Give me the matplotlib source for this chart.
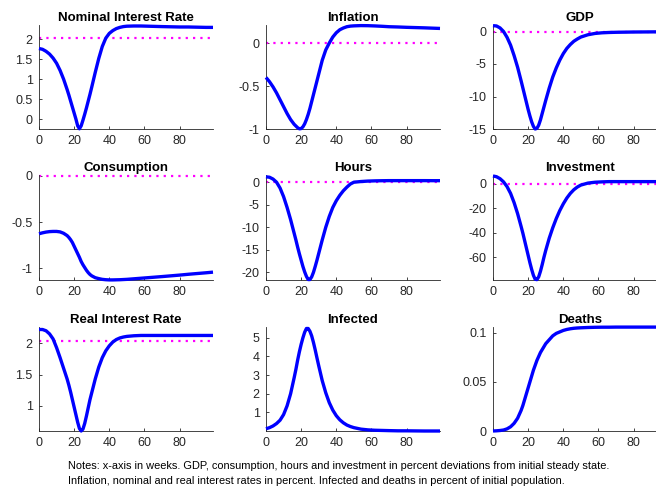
import numpy as np
import matplotlib.pyplot as plt

plt.rcParams["font.family"] = ["Liberation Sans", "DejaVu Sans"]

weeks = [0, 2, 4, 6, 8, 10, 12, 14, 16, 17, 18, 19, 20, 21, 22, 23, 24, 25, 26, 27,
         28, 29, 30, 32, 34, 36, 38, 40, 42, 44, 46, 48, 50, 54, 58, 62, 66, 70, 75,
         80, 85, 90, 95, 99]

nominal_rate = [1.77, 1.75, 1.70, 1.63, 1.53, 1.40, 1.22, 1.00, 0.74, 0.60, 0.45, 0.30,
                0.15, 0.00, -0.17, -0.245, -0.17, -0.03, 0.12, 0.28, 0.45, 0.62, 0.80,
                1.17, 1.52, 1.82, 2.03, 2.15, 2.22, 2.27, 2.30, 2.32, 2.33, 2.335, 2.335,
                2.33, 2.325, 2.32, 2.315, 2.31, 2.31, 2.305, 2.30, 2.30]
inflation = [-0.40, -0.45, -0.51, -0.58, -0.66, -0.74, -0.82, -0.89, -0.945, -0.965,
             -0.985, -0.998, -0.995, -0.975, -0.94, -0.89, -0.83, -0.76, -0.68, -0.60,
             -0.52, -0.44, -0.36, -0.20, -0.08, 0.0, 0.07, 0.12, 0.155, 0.175, 0.19,
             0.197, 0.20, 0.203, 0.202, 0.199, 0.195, 0.19, 0.187, 0.183, 0.18, 0.177,
             0.173, 0.17]
gdp = [0.9, 0.85, 0.55, 0.0, -0.9, -2.1, -3.7, -5.5, -7.6, -8.7, -9.8, -10.9, -12.0,
       -13.0, -13.9, -14.6, -15.0, -14.9, -14.4, -13.6, -12.6, -11.6, -10.6, -8.7, -7.0,
       -5.6, -4.4, -3.4, -2.6, -2.0, -1.5, -1.15, -0.85, -0.5, -0.3, -0.2, -0.15, -0.12,
       -0.1, -0.08, -0.07, -0.06, -0.05, -0.05]
consumption = [-0.625, -0.615, -0.607, -0.602, -0.60, -0.60, -0.605, -0.62, -0.645,
               -0.665, -0.69, -0.72, -0.76, -0.80, -0.84, -0.88, -0.925, -0.96, -0.99,
               -1.02, -1.045, -1.065, -1.08, -1.10, -1.11, -1.118, -1.122, -1.124,
               -1.124, -1.123, -1.122, -1.12, -1.118, -1.112, -1.106, -1.10, -1.094,
               -1.088, -1.08, -1.072, -1.063, -1.055, -1.047, -1.04]
hours = [1.2, 1.1, 0.7, 0.0, -1.3, -3.2, -5.6, -8.3, -11.3, -12.8, -14.4, -15.9, -17.3,
         -18.7, -19.9, -20.9, -21.6, -21.6, -21.0, -20.0, -18.7, -17.3, -15.8, -12.8,
         -10.0, -7.6, -5.6, -4.1, -2.9, -1.9, -1.1, -0.4, 0.0, 0.15, 0.25, 0.3, 0.33,
         0.35, 0.35, 0.35, 0.35, 0.35, 0.34, 0.34]
investment = [6.2, 5.6, 4.0, 1.4, -2.5, -8.0, -15.5, -24.5, -35.0, -40.5, -46.5, -52.5,
              -58.5, -64.5, -70.0, -74.8, -78.0, -78.3, -76.0, -71.5, -66.0, -60.0, -54.5,
              -44.5, -36.0, -28.5, -22.0, -16.5, -11.8, -8.0, -5.0, -2.8, -1.2, 0.4, 1.1,
              1.4, 1.6, 1.6, 1.6, 1.6, 1.6, 1.6, 1.6, 1.6]
real_rate = [2.22, 2.22, 2.20, 2.15, 2.07, 1.93, 1.77, 1.60, 1.43, 1.33, 1.22, 1.10, 0.98,
             0.86, 0.74, 0.64, 0.60, 0.63, 0.72, 0.84, 0.97, 1.10, 1.21, 1.43, 1.62, 1.77,
             1.88, 1.96, 2.02, 2.06, 2.085, 2.10, 2.11, 2.12, 2.125, 2.125, 2.125, 2.125,
             2.125, 2.125, 2.125, 2.125, 2.125, 2.125]
infected = [0.12, 0.18, 0.27, 0.40, 0.58, 0.88, 1.35, 2.0, 2.85, 3.3, 3.8, 4.25, 4.65,
            5.0, 5.3, 5.5, 5.5, 5.35, 5.1, 4.75, 4.35, 3.92, 3.5, 2.7, 2.05, 1.52, 1.12,
            0.82, 0.6, 0.44, 0.32, 0.24, 0.18, 0.1, 0.06, 0.04, 0.03, 0.02, 0.01, 0.01,
            0.005, 0.0, 0.0, 0.0]
deaths = [0.0, 0.0002, 0.0005, 0.001, 0.0022, 0.0043, 0.0078, 0.013, 0.021, 0.026, 0.032,
          0.038, 0.044, 0.050, 0.056, 0.062, 0.067, 0.072, 0.076, 0.080, 0.083, 0.086,
          0.089, 0.093, 0.097, 0.0995, 0.101, 0.1025, 0.1035, 0.1042, 0.1047, 0.105,
          0.1052, 0.1055, 0.1057, 0.1058, 0.1058, 0.1059, 0.1059, 0.1059, 0.1059, 0.1059,
          0.1059, 0.1059]

titles = ["Nominal Interest Rate", "Inflation", "GDP", "Consumption", "Hours",
          "Investment", "Real Interest Rate", "Infected", "Deaths"]
series = [nominal_rate, inflation, gdp, consumption, hours, investment, real_rate,
          infected, deaths]
steady = [2.04, 0, 0, 0, 0, 0, 2.04, None, None]
ylims = [(-0.25, 2.36), (-1.0, 0.21), (-15, 1.0), (-1.125, 0.01), (-21.7, 1.6),
         (-78.6, 7), (0.6, 2.26), (0, 5.58), (0, 0.106)]
yticks = [[0, 0.5, 1, 1.5, 2], [-1, -0.5, 0], [-15, -10, -5, 0], [-1, -0.5, 0],
          [-20, -15, -10, -5, 0], [-60, -40, -20, 0], [1, 1.5, 2], [1, 2, 3, 4, 5],
          [0, 0.05, 0.1]]
ytick_labels = [["0", "0.5", "1", "1.5", "2"], ["-1", "-0.5", "0"],
                ["-15", "-10", "-5", "0"], ["-1", "-0.5", "0"],
                ["-20", "-15", "-10", "-5", "0"], ["-60", "-40", "-20", "0"],
                ["1", "1.5", "2"], ["1", "2", "3", "4", "5"], ["0", "0.05", "0.1"]]

W, H = 656, 488
fig = plt.figure(figsize=(W / 100, H / 100), dpi=100)

col_left = [39, 266, 493]
row_top = [25, 175, 327]
row_bot = [129, 280, 431]
ax_w = 174
dark = "#262626"

for i in range(9):
    r, c = divmod(i, 3)
    ax = fig.add_axes([col_left[c] / W, 1 - row_bot[r] / H, ax_w / W,
                       (row_bot[r] - row_top[r]) / H])
    if steady[i] is not None:
        ax.plot([0, 99], [steady[i], steady[i]], color="#ff00ff", lw=1.6,
                linestyle=(0, (1, 2.3)), zorder=2, clip_on=False)
    ax.plot(weeks, series[i], color="#0000ff", lw=2.4, zorder=3, clip_on=False,
            solid_capstyle="butt")
    ax.set_xlim(0, 99)
    ax.set_ylim(*ylims[i])
    ax.set_xticks([0, 20, 40, 60, 80])
    ax.set_yticks(yticks[i])
    ax.set_yticklabels(ytick_labels[i])
    ax.set_title(titles[i], fontsize=9.5, fontweight="bold", pad=3, color="black")
    ax.spines["top"].set_visible(False)
    ax.spines["right"].set_visible(False)
    for s in ("left", "bottom"):
        ax.spines[s].set_color(dark)
        ax.spines[s].set_linewidth(0.6)
    ax.tick_params(direction="in", length=2.5, width=0.6, labelsize=9,
                   colors=dark)
    ax.tick_params(axis="y", pad=4.5)
    ax.tick_params(axis="x", pad=4)

fig.text(68 / W, 1 - 466 / H,
         "Notes: x-axis in weeks. GDP, consumption, hours and investment in percent "
         "deviations from initial steady state.", fontsize=7.9, va="center", ha="left")
fig.text(68 / W, 1 - 481 / H,
         "Inflation, nominal and real interest rates in percent. Infected and deaths in "
         "percent of initial population.", fontsize=7.9, va="center", ha="left")

fig.savefig("out.png", dpi=100)
